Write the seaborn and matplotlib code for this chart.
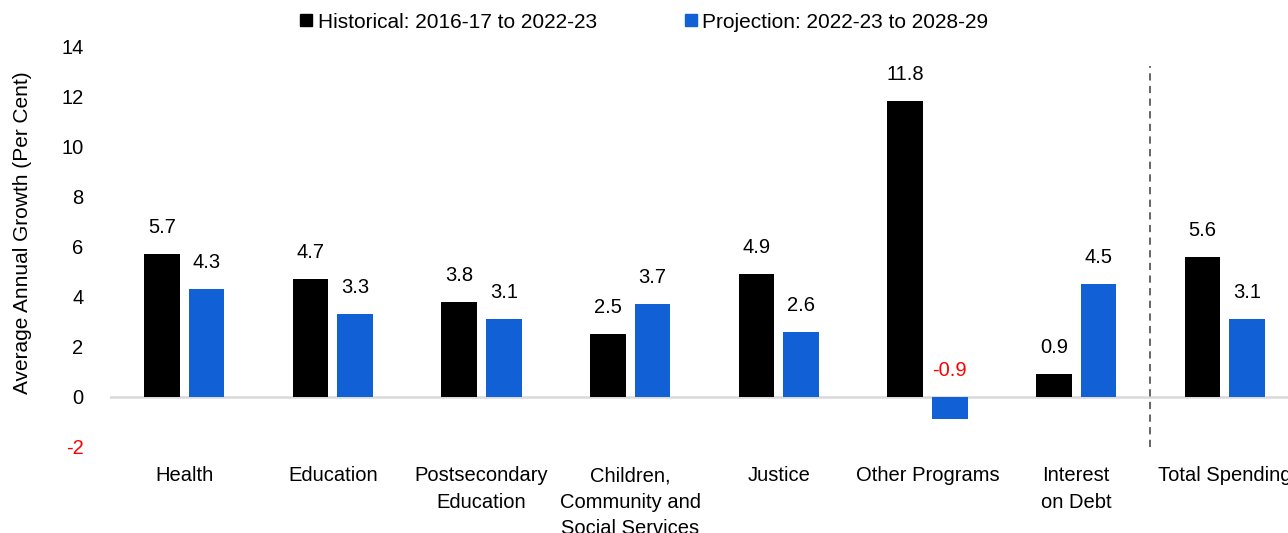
import matplotlib
matplotlib.use("Agg")
import matplotlib.pyplot as plt
import seaborn as sns
import pandas as pd
from matplotlib.lines import Line2D

categories = ["Health", "Education", "Postsecondary\nEducation",
              "Children,\nCommunity and\nSocial Services", "Justice",
              "Other Programs", "Interest\non Debt", "Total Spending"]
historical = [5.7, 4.7, 3.8, 2.5, 4.9, 11.8, 0.9, 5.6]
projection = [4.3, 3.3, 3.1, 3.7, 2.6, -0.9, 4.5, 3.1]
series_names = ["Historical: 2016-17 to 2022-23", "Projection: 2022-23 to 2028-29"]
yticks = [-2, 0, 2, 4, 6, 8, 10, 12, 14]

colors = ["#000000", "#1160D6"]
red = "#FF0000"

sns.set_theme(style="white")
plt.rcParams["font.family"] = ["Liberation Sans", "DejaVu Sans"]
for k in ["text.color", "axes.labelcolor", "xtick.color", "ytick.color"]:
    plt.rcParams[k] = "#000000"

df = pd.DataFrame({
    "cat": categories * 2,
    "series": [series_names[0]] * len(categories) + [series_names[1]] * len(categories),
    "val": historical + projection,
})

fig = plt.figure(figsize=(12.88, 5.33), dpi=100)
ax = fig.add_axes([110 / 1288, 86 / 533, 1189 / 1288, 401 / 533])

sns.barplot(data=df, x="cat", y="val", hue="series", order=categories,
            hue_order=series_names, palette=colors, width=0.6, gap=0.2,
            saturation=1, legend=False, ax=ax, edgecolor="none", linewidth=0)

ax.set_xlim(-0.5, 7.5)
ax.set_ylim(-2, 14)
ax.set_yticks(yticks)
ax.set_yticklabels([str(t) for t in yticks], fontsize=14.5, color="#000000")
for lbl, t in zip(ax.get_yticklabels(), yticks):
    if t < 0:
        lbl.set_color(red)
ax.set_xticks(range(len(categories)))
ax.set_xticklabels(categories, fontsize=14.5, linespacing=1.48, va="top")
ax.tick_params(axis="y", length=0, pad=19)
ax.tick_params(axis="x", length=0, pad=14)
ax.set_xlabel("")
ax.set_ylabel("Average Annual Growth (Per Cent)", fontsize=15)
ax.yaxis.set_label_coords(-0.0655, 0.534)
for s in ax.spines.values():
    s.set_visible(False)
ax.grid(False)

ax.axhline(0, color="#D9D9D9", lw=1.8, zorder=0.5)
ax.plot([6.5, 6.5], [-2, 13.2], ls=(0, (4, 3)), color="#595959", lw=1.3, clip_on=False)

# value labels
for i, cont in enumerate(ax.containers):
    vals = historical if i == 0 else projection
    for bar, v in zip(cont, vals):
        xc = bar.get_x() + bar.get_width() / 2
        ax.annotate(f"{v:.1f}", (xc, max(v, 0)), xytext=(0, 19),
                    textcoords="offset points", ha="center", va="center",
                    fontsize=14.5, color=red if v < 0 else "#000000")

handles = [Line2D([], [], marker="s", ls="none", markersize=8, color=c) for c in colors]
fig.legend(handles, series_names, loc="center", bbox_to_anchor=(0.5, 1 - 22 / 533),
           ncol=2, frameon=False, fontsize=15, handlelength=0.6, handletextpad=0.25,
           columnspacing=4.2, borderaxespad=0)

fig.savefig("out.png", dpi=100)
